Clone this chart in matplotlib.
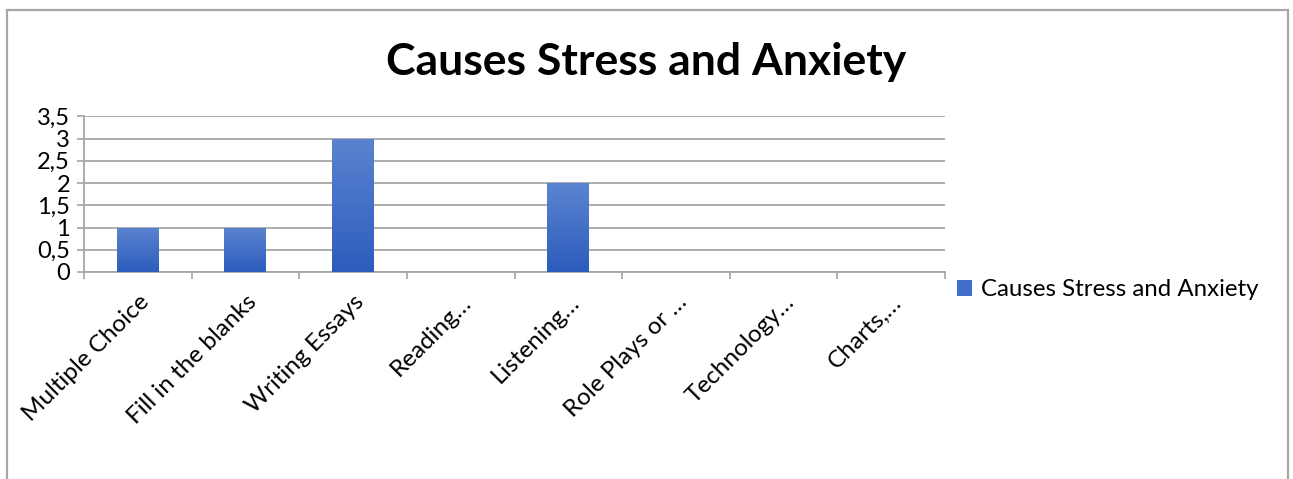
import numpy as np
import matplotlib
matplotlib.use('Agg')
import matplotlib.pyplot as plt
from matplotlib.patches import Patch, Rectangle
from matplotlib.colors import LinearSegmentedColormap

plt.rcParams['font.family'] = ['Lato', 'DejaVu Sans']

categories = ['Multiple Choice', 'Fill in the blanks', 'Writing Essays', 'Reading…',
              'Listening…', 'Role Plays or …', 'Technology…', 'Charts,…']
values = [1, 1, 3, 0, 2, 0, 0, 0]
yticks = [0, 0.5, 1, 1.5, 2, 2.5, 3, 3.5]
series = 'Causes Stress and Anxiety'

fig = plt.figure(figsize=(12.93, 4.79), dpi=100)
W, H = 1293, 479

# outer chart frame (bottom edge runs off the image)
fig.patches.append(Rectangle((7 / W, -0.1), (1288 - 7) / W, 1.1 - 10 / H,
                             transform=fig.transFigure, fill=False,
                             edgecolor='#a6a6a6', lw=1.6))

ax = fig.add_axes([84 / W, 1 - 272 / H, (945 - 84) / W, (272 - 116.25) / H])

x = np.arange(len(categories))
bars = ax.bar(x, values, width=0.39, color='#3f6fcb', zorder=2, edgecolor='none')

# vertical gradient inside each bar
grad = LinearSegmentedColormap.from_list('g', ['#2c5dbd', '#5b83d0'])
g = np.linspace(0, 1, 256).reshape(-1, 1)
for b in bars:
    if b.get_height() <= 0:
        continue
    im = ax.imshow(g, cmap=grad, origin='lower', aspect='auto', zorder=3,
                   extent=[b.get_x(), b.get_x() + b.get_width(), 0, b.get_height()])
    im.set_clip_path(b)

ax.set_xlim(-0.5, len(categories) - 0.5)
ax.set_ylim(0, 3.5)
ax.set_yticks(yticks)
ax.set_yticklabels([('%g' % v).replace('.', ',') for v in yticks], fontsize=17)
ax.yaxis.grid(True, color='#a6a6a6', lw=1.3, zorder=0)
ax.tick_params(axis='y', length=5, width=1.2, color='#a6a6a6', pad=5)

ax.set_xticks(x)
ax.set_xticklabels(categories, rotation=45, ha='right', rotation_mode='anchor', fontsize=17.5)
ax.set_xticks(np.arange(len(categories) + 1) - 0.5, minor=True)
ax.tick_params(axis='x', which='major', length=0, pad=14)
ax.tick_params(axis='x', which='minor', length=5, width=1.2, color='#a6a6a6')

for s in ['top', 'right']:
    ax.spines[s].set_visible(False)
for s in ['left', 'bottom']:
    ax.spines[s].set_color('#a6a6a6')
    ax.spines[s].set_linewidth(1.3)

fig.text(0.5, 1 - 62 / H, series, ha='center', va='center',
         fontsize=32, fontweight='bold')

fig.legend(handles=[Patch(facecolor='#3f6fcb', label=series)],
           loc='center left', bbox_to_anchor=(947 / W, 1 - 290 / H),
           frameon=False, fontsize=17.3, handlelength=0.65, handleheight=0.65,
           handletextpad=0.35, borderaxespad=0)

fig.savefig('out.png', dpi=100, facecolor='white')
